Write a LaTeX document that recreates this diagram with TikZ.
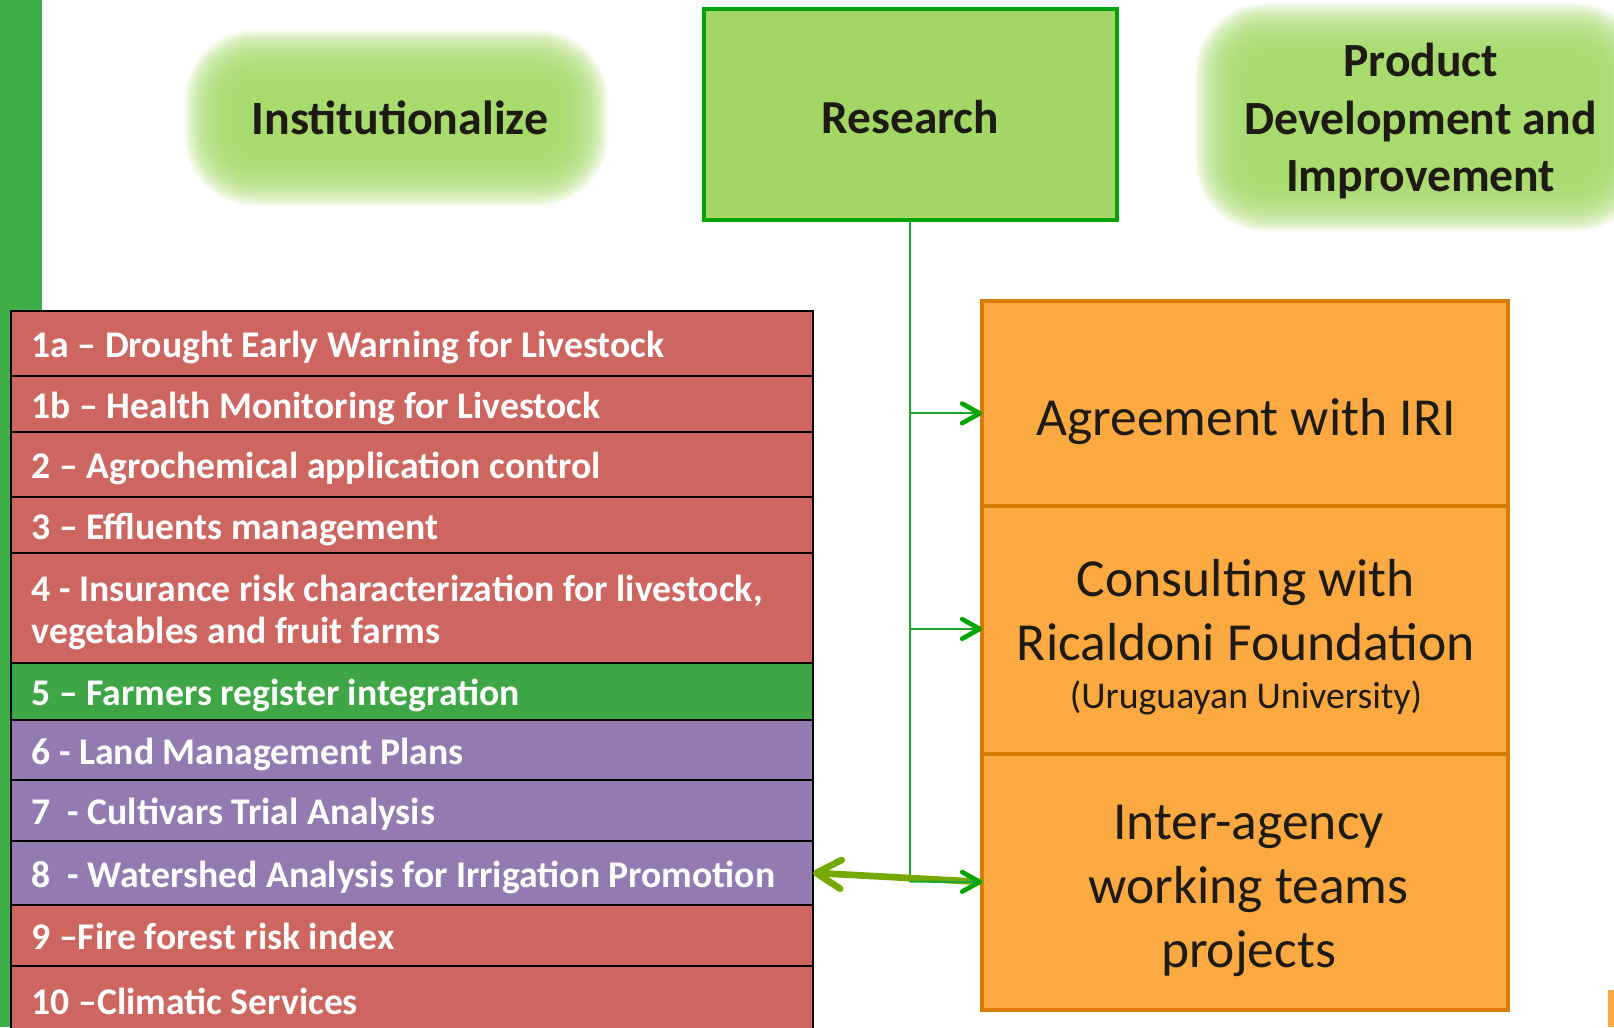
\documentclass[tikz,border=0pt]{standalone}
\usepackage{fontspec}
\setmainfont{Carlito}
\usetikzlibrary{arrows.meta}
\definecolor{rowred}{HTML}{CD6660}
\definecolor{rowgreen}{HTML}{3EA646}
\definecolor{rowpurple}{HTML}{937BB2}
\definecolor{barGreen}{HTML}{3DAE48}
\definecolor{resFill}{HTML}{A3D665}
\definecolor{resBorder}{HTML}{00A30A}
\definecolor{orFill}{HTML}{FDA941}
\definecolor{orBorder}{HTML}{D97B00}
\definecolor{txtdark}{HTML}{1E1A14}
\definecolor{lineGreen}{HTML}{1FA52C}
\definecolor{headGreen}{HTML}{00A500}
\definecolor{oliveArrow}{HTML}{76A900}
\definecolor{glowc}{HTML}{A6D96A}
\begin{document}
\begin{tikzpicture}[x=1pt,y=-1pt,
  every node/.append style={execute at begin node={\spaceskip=0pt\xspaceskip=0pt}},
  rowbox/.style={draw=black, line width=2pt, anchor=north west, outer sep=0pt,
    minimum width=779pt, text width=739pt, inner xsep=20pt, inner ysep=0pt,
    align=flush left, text=white, font=\fontsize{36.6}{40.5}\selectfont\bfseries,
    text height=30pt, text depth=2pt},
  headtxt/.style={text=txtdark, font=\fontsize{46.5}{55.8}\selectfont\bfseries,
    inner sep=0pt, text height=32pt, text depth=3pt},
  resbox/.style={draw=resBorder, line width=4pt, fill=resFill, outer sep=0pt,
    minimum width=400.8pt, minimum height=204.6pt, text=txtdark,
    font=\fontsize{46}{55.8}\selectfont\bfseries, text height=40pt, text depth=2.6pt},
  obox/.style={draw=orBorder, line width=4pt, fill=orFill, outer sep=0pt,
    anchor=north west, minimum width=511.3pt, inner sep=0pt},
  otext/.style={text=txtdark, font=\fontsize{52}{62}\selectfont, text width=505pt,
    align=flush center, anchor=base, inner sep=0pt},
  vline/.style={draw=lineGreen, line width=2.2pt},
  garrow/.style={draw=lineGreen, line width=2pt,
    -{Straight Barb[length=17pt, width=19pt, line width=4.5pt, round, color=headGreen]}},
  oarrow/.style={draw=oliveArrow, line width=6.5pt,
    -{Straight Barb[length=24pt, width=28pt, round]}}
]
\useasboundingbox (0,0) rectangle (1568,998);

% soft glows behind the two side headings
\foreach \i in {0,...,44} {
  \pgfmathsetmacro{\d}{\i*1.3}
  \pgfmathsetmacro{\rr}{12+\i*1.3}
  \fill[glowc, opacity=0.075, rounded corners=\rr pt]
    ({236-\d},{86-\d}) rectangle ({534+\d},{143+\d});
  \fill[glowc, opacity=0.075, rounded corners=\rr pt]
    ({1218-\d},{60-\d}) rectangle ({1542+\d},{168+\d});
}

% left green bar
\fill[barGreen] (0,0) rectangle (40.5,998);

% headings
\node[headtxt] (inst) at (388.5,116.5) {Institutionalize};
\node[text=txtdark, font=\fontsize{46.3}{55.8}\selectfont\bfseries, text width=400pt,
  align=flush center, anchor=base, inner sep=0pt] (prod) at (1380.3,74.5)
  {Product\\Development and\\Improvement};
\node[resbox] (res) at (884.4,111.4) {Research};

% list of rows
\node[rowbox, fill=rowred,    minimum height=63.2pt] (r1a) at (10.7,301.8) {1a -- Drought Early Warning for Livestock};
\node[rowbox, fill=rowred,    minimum height=55pt]   (r1b) at (10.7,365)   {1b -- Health Monitoring for Livestock};
\node[rowbox, fill=rowred,    minimum height=62.5pt] (r2)  at (10.7,420)   {2 -- Agrochemical application control};
\node[rowbox, fill=rowred,    minimum height=55.1pt] (r3)  at (10.7,482.5) {3 -- Effluents management};
\node[rowbox, fill=rowred,    minimum height=106.4pt, text depth=42.5pt] (r4) at (10.7,537.6)
  {4 - Insurance risk characterization for livestock,\\vegetables and fruit farms};
\node[rowbox, fill=rowgreen,  minimum height=55.6pt] (r5)  at (10.7,644)   {5 -- Farmers register integration};
\node[rowbox, fill=rowpurple, minimum height=58.2pt] (r6)  at (10.7,699.6) {6 - Land Management Plans};
\node[rowbox, fill=rowpurple, minimum height=58.9pt] (r7)  at (10.7,757.8) {7\ \ - Cultivars Trial Analysis};
\node[rowbox, fill=rowpurple, minimum height=62.5pt] (r8)  at (10.7,816.7) {8\ \ - Watershed Analysis for Irrigation Promotion};
\node[rowbox, fill=rowred,    minimum height=59pt]   (r9)  at (10.7,879.2) {9 --Fire forest risk index};
\node[rowbox, fill=rowred,    minimum height=66pt]   (r10) at (10.7,938.2) {10 --Climatic Services};

% orange boxes
\node[obox, minimum height=199.2pt] (o1) at (954,292.1) {};
\node[obox, minimum height=241pt]   (o2) at (954,491.3) {};
\node[obox, minimum height=249pt]   (o3) at (954,732.3) {};
\node[otext] (t1) at (1210.5,422.6) {Agreement with IRI};
\node[otext] (t2) at (1210.5,579.7) {Consulting with\\Ricaldoni Foundation\\[-15pt]{\fontsize{36.7}{42}\selectfont (Uruguayan University)}};
\node[otext] (t3) at (1213,816) {Inter-agency\\working teams\\projects};

% small orange mark bottom right
\fill[orFill] (1562,962) rectangle (1568,998);

% connectors
\coordinate (j1) at (884.4,401.6);
\coordinate (j2) at (884.4,611);
\coordinate (jb) at (884.4,856.5);
\draw[vline] (res.south) -- (jb);
\draw[garrow] (j1) -- (j1 -| o1.west);
\draw[garrow] (j2) -- (j2 -| o2.west);
\draw[oarrow] (o3.west) -- (r8.east);
\draw[garrow] (jb) -- (o3.west);
\end{tikzpicture}
\end{document}
